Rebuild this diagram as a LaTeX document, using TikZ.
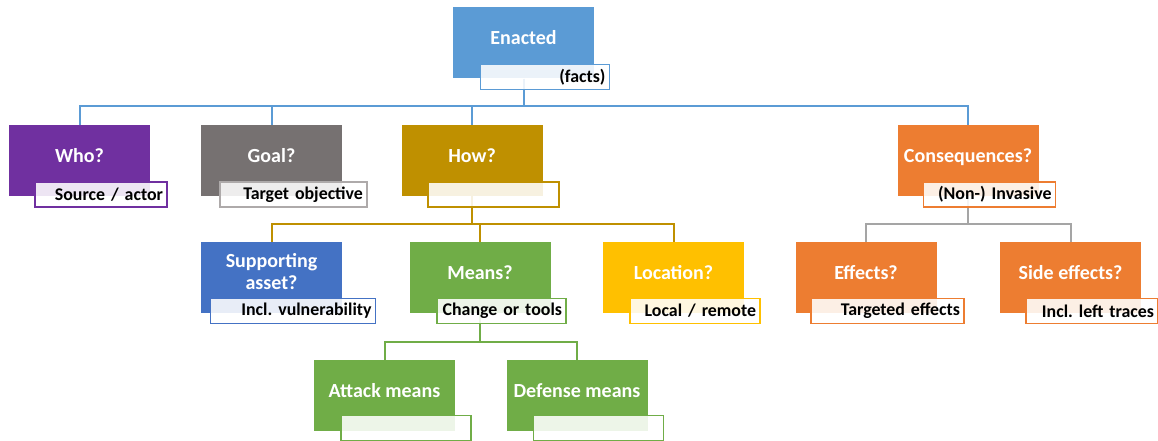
\documentclass[tikz,border=0pt]{standalone}
\usepackage{fontspec}
\setmainfont{Carlito}
\frenchspacing
\usetikzlibrary{backgrounds}

\definecolor{enactc}{HTML}{5B9BD5}
\definecolor{whoc}{HTML}{7030A0}
\definecolor{goalc}{HTML}{767171}
\definecolor{goalrim}{HTML}{AEAAAA}
\definecolor{howc}{HTML}{BF9000}
\definecolor{consc}{HTML}{ED7D31}
\definecolor{consrim}{HTML}{A5A5A5}
\definecolor{suppc}{HTML}{4472C4}
\definecolor{meansc}{HTML}{70AD47}
\definecolor{locc}{HTML}{FFC000}

\begin{document}
\begin{tikzpicture}[x=0.75pt,y=0.75pt,yscale=-1,xscale=1,
  mainbox/.style={fill=#1,text=white,minimum width=105.75pt,minimum height=53.25pt,inner sep=2pt,align=center,
    font=\fontsize{15}{17}\selectfont\bfseries,text height=10pt,text depth=7pt},
  tagbox/.style={draw=#1,line width=1.3pt,fill=white,fill opacity=0.88,text opacity=1,text=black,
    minimum height=18.75pt,inner xsep=3pt,inner ysep=0pt,align=right,text width=91.5pt,
    font=\fontsize{13.4}{15}\selectfont\bfseries},
  link/.style={draw=#1,line width=1.5pt}]
\useasboundingbox (0,0) rectangle (1158,441);

%Shape: Rectangle [top]
\node [mainbox=enactc] (enacted) at (523.5,43) {Enacted};
% Text Node
\node [tagbox=enactc,text width=90.75pt] (enactedtag) at (545,77) {(facts)};

%Shape: Rectangle [level 1]
\node [mainbox=whoc] (who) at (79.5,160.5) {Who?};
\node [mainbox=goalc] (goal) at (271.5,160.5) {Goal?};
\node [mainbox=howc] (how) at (472,160.5) {How?};
\node [mainbox=consc] (cons) at (968,160.5) {Consequences?};
% Text Node
\node [tagbox=whoc,text width=93pt] (whotag) at (101,194.5) {Source / actor};
\node [tagbox=goalrim,text width=104.25pt] (goaltag) at (293.5,194.5) {Target objective};
\node [tagbox=howc,text width=92.25pt] (howtag) at (493.5,194.5) {};
\node [tagbox=consc,text width=93pt] (constag) at (989.5,194.5) {(Non-) Invasive};

%Shape: Rectangle [level 2]
\node [mainbox=suppc,text height=,text depth=9pt] (supp) at (271.5,277.5) {Supporting\\asset?};
\node [mainbox=meansc] (means) at (480,277.5) {Means?};
\node [mainbox=locc] (loc) at (673.5,277.5) {Location?};
\node [mainbox=consc] (eff) at (866,277.5) {Effects?};
\node [mainbox=consc] (side) at (1070.5,277.5) {Side effects?};
% Text Node
\node [tagbox=suppc,text width=117.75pt] (supptag) at (293,311) {Incl. vulnerability};
\node [tagbox=meansc,text width=90.75pt] (meanstag) at (501.5,311) {Change or tools};
\node [tagbox=locc] (loctag) at (695,311) {Local / remote};
\node [tagbox=consc,text width=108.75pt] (efftag) at (887.5,311) {Targeted effects};
\node [tagbox=consc,text width=93pt] (sidetag) at (1092,311) {Incl. left traces};

%Shape: Rectangle [level 3]
\node [mainbox=meansc] (attack) at (384.5,395.5) {Attack means};
\node [mainbox=meansc] (defense) at (577,395.5) {Defense means};
% Text Node
\node [tagbox=meansc] (attacktag) at (406,428) {};
\node [tagbox=meansc] (defensetag) at (598.5,428) {};

%Connectors
\begin{scope}[on background layer]
\draw [link=enactc] (enacted.south) -- ++(0,27) -| (who.north);
\draw [link=enactc] (enacted.south) -- ++(0,27) -| (goal.north);
\draw [link=enactc] (enacted.south) -- ++(0,27) -| (how.north);
\draw [link=enactc] (enacted.south) -- ++(0,27) -| (cons.north);
\draw [link=howc] (how.south) -- ++(0,28) -| (supp.north);
\draw [link=howc] (how.south) -- ++(0,28) -| (means.north);
\draw [link=howc] (how.south) -- ++(0,28) -| (loc.north);
\draw [link=consrim] (cons.south) -- ++(0,28) -| (eff.north);
\draw [link=consrim] (cons.south) -- ++(0,28) -| (side.north);
\draw [link=meansc] (means.south) -- ++(0,29) -| (attack.north);
\draw [link=meansc] (means.south) -- ++(0,29) -| (defense.north);
\end{scope}

\end{tikzpicture}
\end{document}
